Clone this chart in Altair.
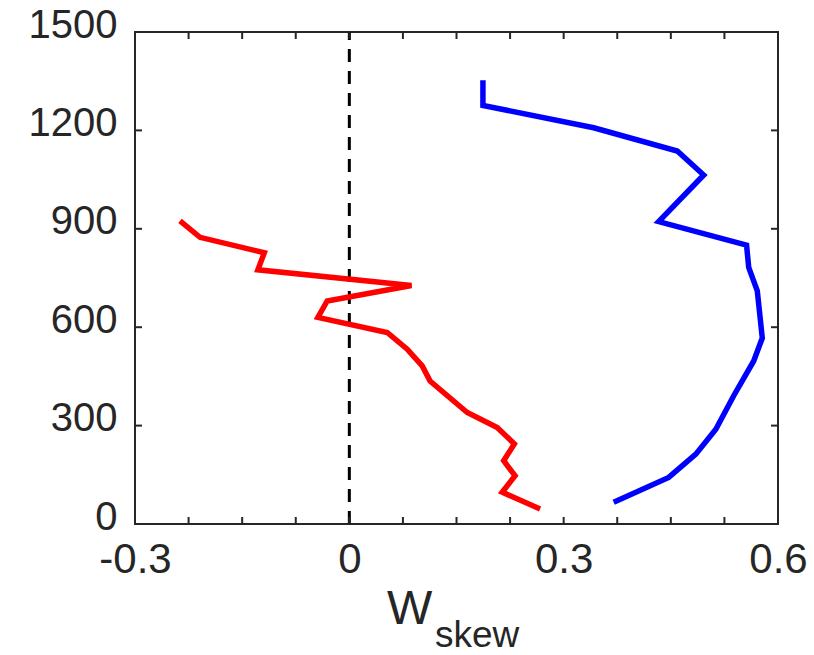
import altair as alt
import pandas as pd

# Vertical profiles of vertical-velocity skewness (height in m)
red_skew = [0.267, 0.214, 0.232, 0.216, 0.231, 0.207, 0.165, 0.113, 0.102, 0.081,
            0.053, -0.044, -0.031, 0.087, -0.128, -0.119, -0.209, -0.237]
red_height = [46, 97, 147, 193, 244, 294, 340, 436, 482, 533,
              584, 630, 680, 727, 775, 827, 874, 924]

blue_skew = [0.370, 0.447, 0.485, 0.513, 0.538, 0.566, 0.578, 0.571, 0.559, 0.556,
             0.433, 0.496, 0.459, 0.342, 0.187, 0.187]
blue_height = [66, 142, 213, 289, 391, 497, 567, 711, 782, 850,
               922, 1064, 1137, 1208, 1276, 1353]

x_minor_ticks = [-0.3, -0.225, -0.15, -0.075, 0.0, 0.075, 0.15, 0.225,
                 0.3, 0.375, 0.45, 0.525, 0.6]
x_label_values = [-0.3, 0.0, 0.3, 0.6]
y_tick_values = [0, 300, 600, 900, 1200, 1500]
zero_line = 0.0

title_main = "W"
title_sub = "skew"

W, H = 643, 492
FONT = "Liberation Sans"
INK = "#262626"
TICK = 7

xs = alt.Scale(domain=[-0.3, 0.6], nice=False, zero=False)
ys = alt.Scale(domain=[0, 1500], nice=False, zero=False)

red_df = pd.DataFrame({"w": red_skew, "z": red_height, "i": range(len(red_skew))})
blue_df = pd.DataFrame({"w": blue_skew, "z": blue_height, "i": range(len(blue_skew))})
xt_df = pd.DataFrame({"t": x_minor_ticks})
yt_df = pd.DataFrame({"t": y_tick_values})
zero_df = pd.DataFrame({"x": [zero_line], "y0": [0], "y1": [1500]})

x_axis = alt.Axis(
    values=x_label_values, ticks=False, domain=False, grid=False, title=None,
    labelFontSize=42, labelPadding=15, labelColor=INK, labelFont=FONT,
    labelFlush=False, labelOverlap=False,
    labelExpr="datum.value < 0 ? '-' + format(abs(datum.value), '.1f') : "
              "(datum.value == 0 ? '0' : format(datum.value, '.1f'))",
)
y_axis = alt.Axis(
    values=y_tick_values, ticks=False, domain=False, grid=False, title=None,
    labelFontSize=40, labelPadding=18, labelColor=INK, labelFont=FONT,
    labelFlush=False, labelOverlap=False, labelOffset=-7, format="d",
)

# dashed zero reference line; this first layer carries both axes
zero_rule = alt.Chart(zero_df).mark_rule(
    color="black", strokeWidth=3, strokeDash=[13, 9]
).encode(
    x=alt.X("x:Q", scale=xs, axis=x_axis),
    y=alt.Y("y0:Q", scale=ys, axis=y_axis),
    y2="y1:Q",
)

red_line = alt.Chart(red_df).mark_line(color="#ff0000", strokeWidth=5.5).encode(
    x=alt.X("w:Q", scale=xs),
    y=alt.Y("z:Q", scale=ys),
    order="i:Q",
)
blue_line = alt.Chart(blue_df).mark_line(color="#0000ff", strokeWidth=5.5).encode(
    x=alt.X("w:Q", scale=xs),
    y=alt.Y("z:Q", scale=ys),
    order="i:Q",
)

# inward tick marks on all four sides
tick_style = dict(color=INK, strokeWidth=2)
x_ticks_bottom = alt.Chart(xt_df).mark_rule(**tick_style).encode(
    x=alt.X("t:Q", scale=xs), y=alt.value(H), y2=alt.value(H - TICK)
)
x_ticks_top = alt.Chart(xt_df).mark_rule(**tick_style).encode(
    x=alt.X("t:Q", scale=xs), y=alt.value(0), y2=alt.value(TICK)
)
y_ticks_left = alt.Chart(yt_df).mark_rule(**tick_style).encode(
    y=alt.Y("t:Q", scale=ys), x=alt.value(0), x2=alt.value(TICK)
)
y_ticks_right = alt.Chart(yt_df).mark_rule(**tick_style).encode(
    y=alt.Y("t:Q", scale=ys), x=alt.value(W), x2=alt.value(W - TICK)
)

# axis title: W with subscript
title_w = alt.Chart(pd.DataFrame({"s": [title_main]})).mark_text(
    align="left", baseline="alphabetic", fontSize=48, font=FONT, color=INK
).encode(text="s:N", x=alt.value(252), y=alt.value(592))
title_s = alt.Chart(pd.DataFrame({"s": [title_sub]})).mark_text(
    align="left", baseline="alphabetic", fontSize=37, font=FONT, color=INK
).encode(text="s:N", x=alt.value(300), y=alt.value(615))

chart = alt.layer(
    zero_rule, red_line, blue_line,
    x_ticks_bottom, x_ticks_top, y_ticks_left, y_ticks_right,
    title_w, title_s,
).properties(
    width=W, height=H,
    autosize=alt.AutoSizeParams(type="none"),
    padding={"left": 135, "top": 32, "right": 36, "bottom": 131},
    background="white",
).configure_view(
    stroke=INK, strokeWidth=2
)

chart.save("out.html", embed_options={"renderer": "svg", "actions": False})
